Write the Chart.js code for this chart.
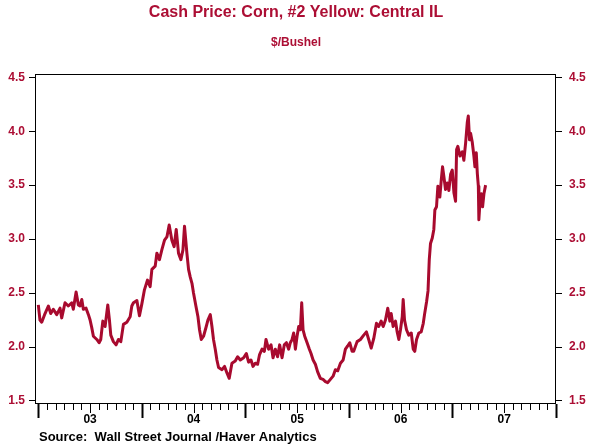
<!DOCTYPE html>
<html>
<head>
<meta charset="utf-8">
<script src="https://cdn.jsdelivr.net/npm/chart.js@4.4.1/dist/chart.umd.min.js"></script>
<style>
  html, body { margin: 0; padding: 0; background: #ffffff; }
  #wrap { width: 592px; height: 447px; }
</style>
</head>
<body>
<div id="wrap"><canvas id="c" width="592" height="447"></canvas></div>
<script>
// ---- Data ----
const titleText = 'Cash Price: Corn, #2 Yellow: Central IL';
const subtitleText = '$/Bushel';
const sourceText = 'Source:  Wall Street Journal /Haver Analytics';

// decimal years
const dates = [
  2003.000, 2003.016, 2003.033, 2003.065, 2003.097, 2003.120, 2003.145, 2003.178, 2003.210, 2003.226,
  2003.258, 2003.290, 2003.323, 2003.338, 2003.365, 2003.387, 2003.403, 2003.420, 2003.435, 2003.461,
  2003.484, 2003.500, 2003.516, 2003.532, 2003.565, 2003.587, 2003.603, 2003.623, 2003.645, 2003.671,
  2003.687, 2003.700, 2003.725, 2003.751, 2003.774, 2003.797, 2003.822, 2003.855, 2003.887, 2003.903,
  2003.919, 2003.952, 2003.977, 2004.000, 2004.025, 2004.054, 2004.080, 2004.097, 2004.129, 2004.145,
  2004.170, 2004.193, 2004.219, 2004.242, 2004.264, 2004.290, 2004.312, 2004.332, 2004.354, 2004.377,
  2004.397, 2004.412, 2004.435, 2004.451, 2004.467, 2004.484, 2004.499, 2004.522, 2004.542, 2004.557,
  2004.574, 2004.596, 2004.622, 2004.638, 2004.661, 2004.677, 2004.692, 2004.709, 2004.725, 2004.741,
  2004.774, 2004.799, 2004.822, 2004.844, 2004.870, 2004.902, 2004.925, 2004.951, 2004.983, 2005.009,
  2005.031, 2005.054, 2005.074, 2005.096, 2005.118, 2005.137, 2005.161, 2005.183, 2005.199, 2005.224,
  2005.248, 2005.267, 2005.289, 2005.311, 2005.331, 2005.354, 2005.376, 2005.396, 2005.418, 2005.434,
  2005.451, 2005.466, 2005.483, 2005.499, 2005.515, 2005.531, 2005.544, 2005.557, 2005.573, 2005.596,
  2005.618, 2005.634, 2005.654, 2005.676, 2005.698, 2005.724, 2005.750, 2005.773, 2005.795, 2005.821,
  2005.847, 2005.869, 2005.892, 2005.918, 2005.944, 2005.966, 2005.988, 2006.008, 2006.031, 2006.046,
  2006.079, 2006.111, 2006.143, 2006.169, 2006.191, 2006.215, 2006.240, 2006.266, 2006.288, 2006.311,
  2006.331, 2006.353, 2006.375, 2006.395, 2006.408, 2006.427, 2006.450, 2006.466, 2006.482, 2006.498,
  2006.515, 2006.524, 2006.537, 2006.556, 2006.578, 2006.602, 2006.621, 2006.636, 2006.653, 2006.675,
  2006.698, 2006.718, 2006.730, 2006.750, 2006.764, 2006.776, 2006.788, 2006.805, 2006.820, 2006.830,
  2006.846, 2006.859, 2006.878, 2006.892, 2006.904, 2006.917, 2006.933, 2006.950, 2006.965, 2006.982,
  2006.998, 2007.014, 2007.030, 2007.040, 2007.052, 2007.072, 2007.095, 2007.110, 2007.127, 2007.143,
  2007.153, 2007.165, 2007.175, 2007.191, 2007.207, 2007.217, 2007.230, 2007.240, 2007.250, 2007.255,
  2007.265, 2007.279, 2007.291, 2007.304, 2007.320
];
// $/bushel
const prices = [
  2.39, 2.25, 2.23, 2.31, 2.38, 2.31, 2.35, 2.30, 2.36, 2.27,
  2.41, 2.38, 2.41, 2.35, 2.51, 2.39, 2.38, 2.44, 2.35, 2.36,
  2.30, 2.25, 2.18, 2.10, 2.07, 2.04, 2.07, 2.24, 2.19, 2.39,
  2.25, 2.11, 2.05, 2.02, 2.07, 2.05, 2.21, 2.23, 2.28, 2.38,
  2.41, 2.43, 2.29, 2.40, 2.53, 2.62, 2.56, 2.72, 2.75, 2.87,
  2.81, 2.90, 2.99, 3.02, 3.13, 2.99, 2.93, 3.09, 2.87, 2.81,
  2.90, 3.12, 2.87, 2.72, 2.65, 2.59, 2.50, 2.38, 2.28, 2.16,
  2.07, 2.10, 2.19, 2.25, 2.30, 2.19, 2.07, 1.98, 1.88, 1.81,
  1.79, 1.82, 1.76, 1.71, 1.85, 1.87, 1.91, 1.88, 1.90, 1.94,
  1.86, 1.88, 1.82, 1.85, 1.84, 1.93, 1.98, 1.96, 2.07, 1.98,
  2.02, 1.90, 1.98, 1.91, 2.02, 1.90, 2.02, 2.04, 1.98, 2.04,
  2.07, 2.13, 1.98, 2.10, 2.19, 2.16, 2.41, 2.16, 2.10, 2.04,
  1.98, 1.94, 1.88, 1.84, 1.77, 1.71, 1.70, 1.68, 1.67, 1.70,
  1.73, 1.79, 1.78, 1.85, 1.88, 1.98, 2.01, 2.04, 1.96, 1.96,
  2.05, 2.07, 2.11, 2.14, 2.07, 1.99, 2.08, 2.22, 2.19, 2.24,
  2.19, 2.25, 2.36, 2.24, 2.31, 2.19, 2.24, 2.14, 2.07, 2.16,
  2.28, 2.44, 2.25, 2.16, 2.11, 2.13, 1.98, 1.96, 2.07, 2.13,
  2.14, 2.22, 2.30, 2.42, 2.52, 2.81, 2.96, 3.01, 3.09, 3.27,
  3.30, 3.49, 3.39, 3.55, 3.67, 3.58, 3.46, 3.52, 3.45, 3.60,
  3.64, 3.43, 3.35, 3.83, 3.86, 3.77, 3.81, 3.73, 3.89, 4.08,
  4.14, 3.92, 3.98, 3.90, 3.77, 3.67, 3.80, 3.61, 3.49, 3.18,
  3.33, 3.42, 3.30, 3.42, 3.50
];

const yTickValues = [1.5, 2.0, 2.5, 3.0, 3.5, 4.0, 4.5];
const xYears = [2003, 2004, 2005, 2006, 2007];
const xTickLabels = ['03', '04', '05', '06', '07'];

// ---- Styling ----
const RED_TEXT = '#AC0E34';
const RED_LINE = '#A80A2E';
const FONT = '"Liberation Sans", Arial, Helvetica, sans-serif';

const points = dates.map((d, i) => ({ x: d, y: prices[i] }));

const framePlugin = {
  id: 'frameAndText',
  afterDraw(chart) {
    const ctx = chart.ctx;
    const a = chart.chartArea;
    const xs = chart.scales.x;
    ctx.save();
    // frame
    ctx.strokeStyle = '#000';
    ctx.lineWidth = 1;
    ctx.strokeRect(Math.round(a.left) + 0.5, Math.round(a.top) + 0.5,
                   Math.round(a.right - a.left) - 1, Math.round(a.bottom - a.top) - 1);
    // x tick marks (monthly, yearly major)
    const base = Math.round(a.bottom);
    const firstYear = xYears[0];
    const lastYear = xYears[xYears.length - 1] + 1;
    for (let yr = firstYear; yr <= lastYear; yr++) {
      for (let m = 0; m < 12; m++) {
        if (yr === lastYear && m > 0) break;
        const px = Math.round(xs.getPixelForValue(yr + m / 12)) + 0.5;
        let len = 6, w = 1;
        if (m === 0) { len = 14; w = 2; }
        else if (m === 6) { len = 9; }
        ctx.beginPath();
        ctx.lineWidth = w;
        ctx.moveTo(px, base);
        ctx.lineTo(px, base + len);
        ctx.stroke();
      }
    }
    // texts
    const W = chart.width;
    ctx.textAlign = 'center';
    ctx.textBaseline = 'middle';
    ctx.fillStyle = RED_TEXT;
    ctx.font = 'bold 16px ' + FONT;
    ctx.fillText(titleText, W / 2, 13);
    ctx.font = 'bold 12px ' + FONT;
    ctx.fillText(subtitleText, W / 2, 43);
    ctx.textAlign = 'left';
    ctx.fillStyle = '#000';
    ctx.font = 'bold 13px ' + FONT;
    ctx.fillText(sourceText, 39, 437);
    ctx.restore();
  }
};

const yCommon = (pos, width, pad) => ({
  type: 'linear',
  position: pos,
  min: 1.472,
  max: 4.53,
  afterBuildTicks: (s) => { s.ticks = yTickValues.map(v => ({ value: v })); },
  afterFit: (s) => { s.width = width; },
  border: { display: false },
  grid: { display: true, drawOnChartArea: false, drawTicks: true, tickLength: 6, color: '#000', lineWidth: 1 },
  ticks: {
    color: RED_TEXT,
    font: { family: FONT, size: 12, weight: 'bold' },
    padding: pad,
    callback: (v) => Number(v).toFixed(1)
  }
});

new Chart(document.getElementById('c'), {
  type: 'line',
  data: {
    datasets: [{
      data: points,
      borderColor: RED_LINE,
      borderWidth: 3,
      pointRadius: 0,
      tension: 0,
      fill: false,
      borderJoinStyle: 'round',
      yAxisID: 'y'
    }]
  },
  options: {
    responsive: false,
    devicePixelRatio: 1,
    animation: false,
    layout: { padding: { top: 74, left: 0, right: 0, bottom: 0 } },
    plugins: {
      legend: { display: false },
      title: { display: false },
      tooltip: { enabled: false }
    },
    scales: {
      x: {
        type: 'linear',
        position: 'bottom',
        min: 2002.968,
        max: 2008,
        afterBuildTicks: (s) => { s.ticks = xYears.map(y => ({ value: y + 0.5 })); },
        afterFit: (s) => { s.height = 43; },
        border: { display: false },
        grid: { display: false, drawTicks: false },
        ticks: {
          color: '#000',
          maxRotation: 0,
          autoSkip: false,
          font: { family: FONT, size: 12, weight: 'bold' },
          padding: 8,
          callback: (v) => {
            const i = xYears.indexOf(Math.round(v - 0.5));
            return i >= 0 ? xTickLabels[i] : '';
          }
        }
      },
      y: yCommon('left', 35, 4),
      y2: yCommon('right', 36, 7)
    }
  },
  plugins: [framePlugin]
});
</script>
</body>
</html>
